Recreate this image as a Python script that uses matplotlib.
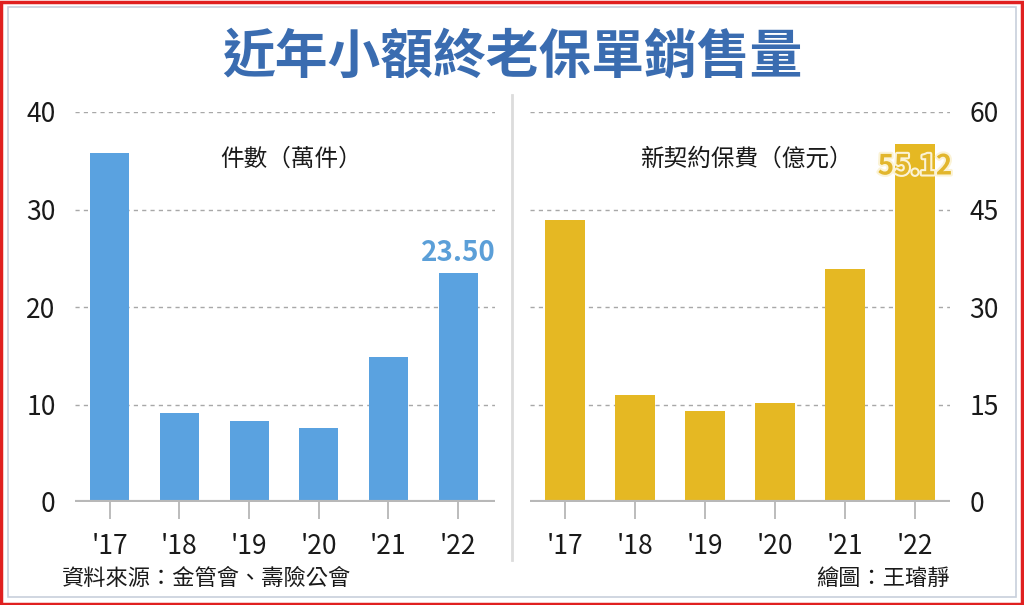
import matplotlib
matplotlib.use('Agg')
import matplotlib.pyplot as plt
import matplotlib.patheffects as pe
from matplotlib.patches import Rectangle
from matplotlib.lines import Line2D

plt.rcParams['font.family'] = ['Noto Sans CJK TC', 'DejaVu Sans']

years = ["'17", "'18", "'19", "'20", "'21", "'22"]
cases = [35.8, 9.1, 8.3, 7.6, 14.9, 23.5]        # 件數(萬件)
premium = [43.4, 16.5, 14.0, 15.2, 35.8, 55.12]  # 新契約保費(億元)
left_ticks = [0, 10, 20, 30, 40]
right_ticks = [0, 15, 30, 45, 60]

W, H = 1024, 605
fig = plt.figure(figsize=(W / 100, H / 100), dpi=100)
fig.patch.set_facecolor('white')

def fx(px):
    return px / W

def fy(py):
    return 1 - py / H

# frames
fig.add_artist(Rectangle((0.001, 0.002), 0.997, 0.995, transform=fig.transFigure,
                         fill=False, edgecolor='#e02020', linewidth=2.5))
fig.add_artist(Rectangle((fx(8), fy(597)), fx(1008), 1 - 15 / H, transform=fig.transFigure,
                         fill=False, edgecolor='#c8d0dc', linewidth=1.2))
fig.add_artist(Line2D([fx(512), fx(512)], [fy(95), fy(560)], transform=fig.transFigure,
                      color='#dcdcdc', linewidth=2))

bottom = fy(502)
height = fy(112) - bottom

ax1 = fig.add_axes([fx(75), bottom, fx(420), height])
ax2 = fig.add_axes([fx(530), bottom, fx(420), height])

blue = '#5aa2e0'
gold = '#e5b823'

def style(ax, ticks, side):
    ax.set_ylim(0, ticks[-1])
    ax.set_yticks(ticks)
    for s in ax.spines.values():
        s.set_visible(False)
    for t in ticks[1:]:
        ax.axhline(t, color='#a8a8a8', linestyle=(0, (3, 3)), linewidth=1, zorder=0)
    ax.axhline(0, color='#b8b8b8', linewidth=3, zorder=3)
    ax.tick_params(axis='x', length=12, width=1.2, color='#b0b0b0', pad=10,
                   labelsize=19, labelcolor='#1a1a1a', direction='out')
    ax.tick_params(axis='y', length=0, labelsize=19, labelcolor='#1a1a1a', pad=14)
    if side == 'right':
        ax.yaxis.tick_right()
    ax.set_facecolor('none')

x = list(range(len(years)))
ax1.bar(x, cases, width=0.56, color=blue, zorder=2)
ax1.set_xlim(-0.5, 5.53)
ax1.set_xticks(x, years)
style(ax1, left_ticks, 'left')
ax1.text(5.0, cases[-1] + 0.6, f'{cases[-1]:.2f}', ha='center', va='bottom',
         fontsize=20, color='#5b9fd8', fontweight='bold')
ax1.text(2.6, 35.2, '件數（萬件）', ha='center', va='center', fontsize=17, color='#1a1a1a')

ax2.bar(x, premium, width=0.56, color=gold, zorder=2)
ax2.set_xlim(-0.5, 5.5)
ax2.set_xticks(x, years)
style(ax2, right_ticks, 'right')
ax2.text(5.0, premium[-1] - 3.5, f'{premium[-1]:.2f}', ha='center', va='center',
         fontsize=20, color='#e2b62c', fontweight='bold', zorder=5,
         path_effects=[pe.withStroke(linewidth=3, foreground='#fbf3d6')])
ax2.text(2.6, 52.8, '新契約保費（億元）', ha='center', va='center', fontsize=17, color='#1a1a1a')

fig.text(0.5, fy(58), '近年小額終老保單銷售量', ha='center', va='center',
         fontsize=38, fontweight='bold', color='#3a6cb0')
fig.text(fx(62), fy(578), '資料來源：金管會、壽險公會', ha='left', va='center',
         fontsize=16, color='#1a1a1a')
fig.text(fx(950), fy(578), '繪圖：王璿靜', ha='right', va='center',
         fontsize=16, color='#1a1a1a')

fig.savefig('out.png', dpi=100)
